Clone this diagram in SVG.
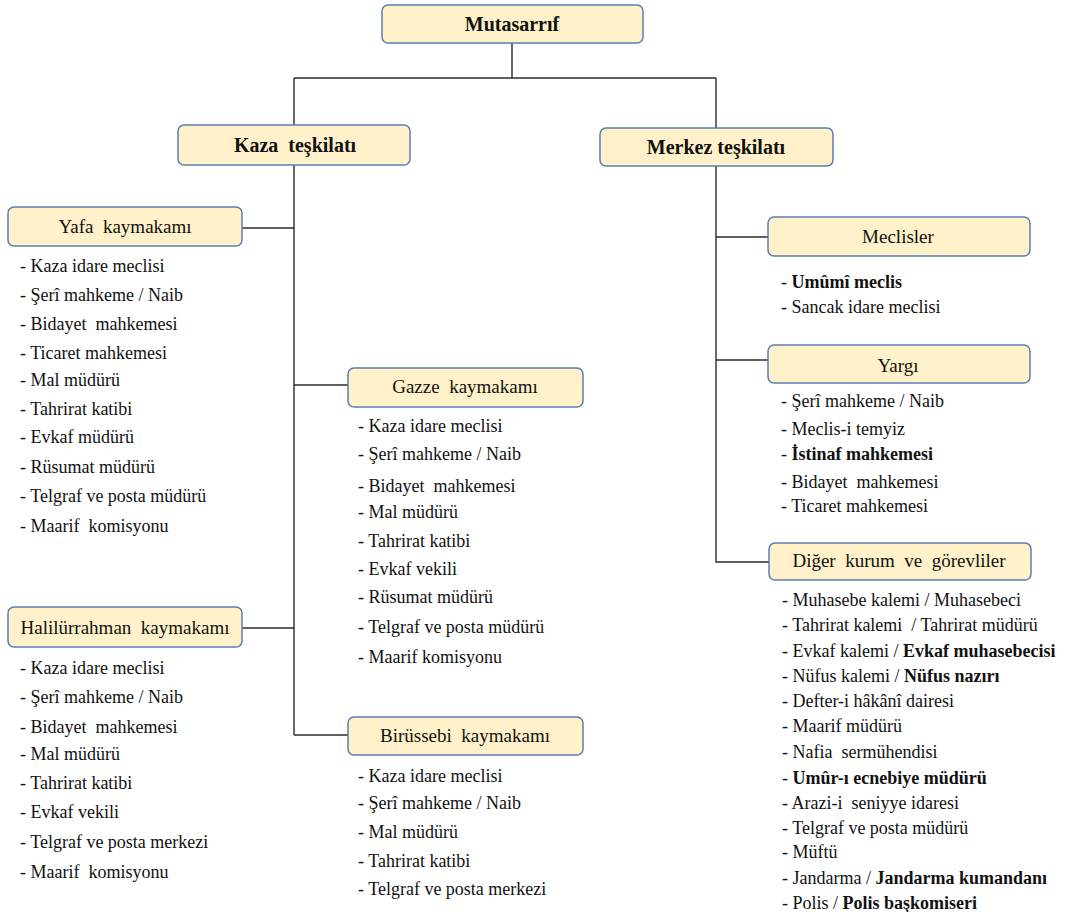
<svg xmlns="http://www.w3.org/2000/svg" width="1080" height="912" viewBox="0 0 1080 912">
<style>
.box{fill:#FFF1C9;stroke:#5B7DB5;stroke-width:1.5}
.ln{stroke:#2b2b2b;stroke-width:1.4;fill:none}
text{font-family:'Liberation Serif','Times New Roman','DejaVu Serif',serif;fill:#111;white-space:pre}
.hb{font-size:20px;font-weight:bold;text-anchor:middle}
.h{font-size:19px;text-anchor:middle}
.li{font-size:18px}
.b{font-weight:bold}
</style>
<rect width="1080" height="912" fill="#fff"/>
<g id="connectors">
<path class="ln" d="M512 43V78M294 78H716M294 78V126M716 78V129"/>
<path class="ln" d="M294 165V735M242 228H294M242 628H294M294 385H348M294 735H348"/>
<path class="ln" d="M716 166V562H769M716 237H768M716 360H768"/>
</g>
<g font-family="Liberation Serif, serif">
<g id="mutasarrif">
<rect class="box" x="382" y="5" width="261" height="38" rx="6"/>
<text class="hb" x="512" y="31">Mutasarrıf</text>
</g>
<g id="kaza">
<rect class="box" x="178" y="125" width="232" height="40" rx="6"/>
<text class="hb" x="295" y="152">Kaza  teşkilatı</text>
</g>
<g id="merkez">
<rect class="box" x="600" y="128" width="233" height="38" rx="6"/>
<text class="hb" x="716" y="154">Merkez teşkilatı</text>
</g>
<g id="yafa">
<rect class="box" x="8" y="207" width="234" height="39" rx="6"/>
<text class="h" x="125" y="233">Yafa  kaymakamı</text>
<g class="li">
<text x="20" y="272">- Kaza idare meclisi</text>
<text x="20" y="301">- Şerî mahkeme / Naib</text>
<text x="20" y="330">- Bidayet  mahkemesi</text>
<text x="20" y="359">- Ticaret mahkemesi</text>
<text x="20" y="386">- Mal müdürü</text>
<text x="20" y="415">- Tahrirat katibi</text>
<text x="20" y="443">- Evkaf müdürü</text>
<text x="20" y="473">- Rüsumat müdürü</text>
<text x="20" y="502">- Telgraf ve posta müdürü</text>
<text x="20" y="532">- Maarif  komisyonu</text>
</g>
</g>
<g id="gazze">
<rect class="box" x="348" y="368" width="235" height="39" rx="6"/>
<text class="h" x="465" y="393">Gazze  kaymakamı</text>
<g class="li">
<text x="358" y="432">- Kaza idare meclisi</text>
<text x="358" y="460">- Şerî mahkeme / Naib</text>
<text x="358" y="492">- Bidayet  mahkemesi</text>
<text x="358" y="518">- Mal müdürü</text>
<text x="358" y="547">- Tahrirat katibi</text>
<text x="358" y="575">- Evkaf vekili</text>
<text x="358" y="603">- Rüsumat müdürü</text>
<text x="358" y="633">- Telgraf ve posta müdürü</text>
<text x="358" y="663">- Maarif komisyonu</text>
</g>
</g>
<g id="halilurrahman">
<rect class="box" x="8" y="607" width="234" height="40" rx="6"/>
<text class="h" x="125" y="634">Halilürrahman  kaymakamı</text>
<g class="li">
<text x="20" y="674">- Kaza idare meclisi</text>
<text x="20" y="703">- Şerî mahkeme / Naib</text>
<text x="20" y="733">- Bidayet  mahkemesi</text>
<text x="20" y="760">- Mal müdürü</text>
<text x="20" y="789">- Tahrirat katibi</text>
<text x="20" y="818">- Evkaf vekili</text>
<text x="20" y="848">- Telgraf ve posta merkezi</text>
<text x="20" y="878">- Maarif  komisyonu</text>
</g>
</g>
<g id="birussebi">
<rect class="box" x="348" y="717" width="235" height="38" rx="6"/>
<text class="h" x="465" y="742">Birüssebi  kaymakamı</text>
<g class="li">
<text x="358" y="782">- Kaza idare meclisi</text>
<text x="358" y="809">- Şerî mahkeme / Naib</text>
<text x="358" y="838">- Mal müdürü</text>
<text x="358" y="867">- Tahrirat katibi</text>
<text x="358" y="895">- Telgraf ve posta merkezi</text>
</g>
</g>
<g id="meclisler">
<rect class="box" x="768" y="217" width="262" height="39" rx="6"/>
<text class="h" x="898" y="243">Meclisler</text>
<g class="li">
<text x="781" y="288">- <tspan class="b">Umûmî meclis</tspan></text>
<text x="781" y="313">- Sancak idare meclisi</text>
</g>
</g>
<g id="yargi">
<rect class="box" x="768" y="345" width="262" height="38" rx="6"/>
<text class="h" x="898" y="372">Yargı</text>
<g class="li">
<text x="781" y="407">- Şerî mahkeme / Naib</text>
<text x="781" y="435">- Meclis-i temyiz</text>
<text x="781" y="460">- <tspan class="b">İstinaf mahkemesi</tspan></text>
<text x="781" y="488">- Bidayet  mahkemesi</text>
<text x="781" y="512">- Ticaret mahkemesi</text>
</g>
</g>
<g id="diger">
<rect class="box" x="769" y="543" width="262" height="37" rx="6"/>
<text class="h" x="899" y="567">Diğer  kurum  ve  görevliler</text>
<g class="li">
<text x="782" y="606">- Muhasebe kalemi / Muhasebeci</text>
<text x="782" y="631">- Tahrirat kalemi  / Tahrirat müdürü</text>
<text x="782" y="657">- Evkaf kalemi / <tspan class="b">Evkaf muhasebecisi</tspan></text>
<text x="782" y="682">- Nüfus kalemi / <tspan class="b">Nüfus nazırı</tspan></text>
<text x="782" y="707">- Defter-i hâkânî dairesi</text>
<text x="782" y="732">- Maarif müdürü</text>
<text x="782" y="758">- Nafia  sermühendisi</text>
<text x="782" y="784">- <tspan class="b">Umûr-ı ecnebiye müdürü</tspan></text>
<text x="782" y="809">- Arazi-i  seniyye idaresi</text>
<text x="782" y="834">- Telgraf ve posta müdürü</text>
<text x="782" y="858">- Müftü</text>
<text x="782" y="884">- Jandarma / <tspan class="b">Jandarma kumandanı</tspan></text>
<text x="782" y="909">- Polis / <tspan class="b">Polis başkomiseri</tspan></text>
</g>
</g>
</g>
</svg>
